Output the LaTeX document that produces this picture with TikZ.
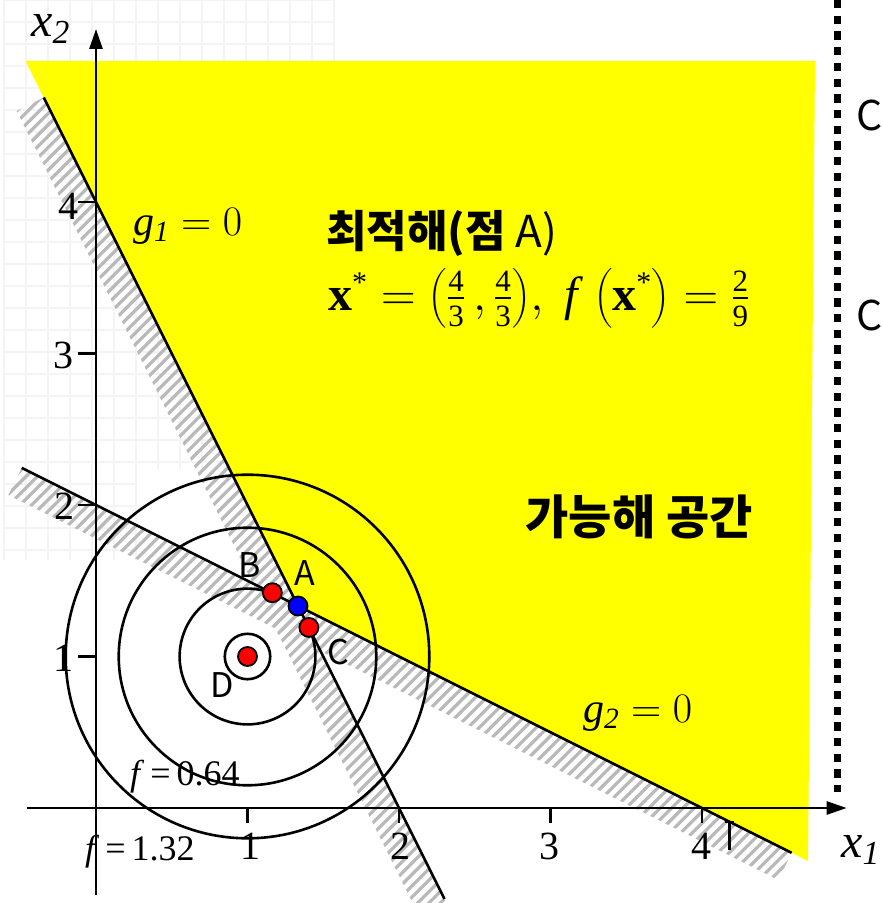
\RequirePackage{fix-cm}
\documentclass[tikz,border=0pt]{standalone}
\usepackage{amsmath}
\usepackage{fontspec}
\setmainfont{Liberation Serif}
\newfontfamily\krfont{Noto Sans CJK KR}
\usetikzlibrary{arrows.meta,calc}
\definecolor{feasyellow}{RGB}{255,255,0}
\definecolor{hatchgray}{RGB}{185,185,185}
\definecolor{gridgray}{RGB}{244,244,244}
\newcommand\fsz[1]{\fontsize{#1}{#1}\selectfont}
\newcommand\tfr[2]{\genfrac{}{}{1.3pt}{}{\mbox{\fsz{31}#1}}{\mbox{\fsz{31}#2}}}
\newcommand\bx{\mbox{\bfseries x}^{\mbox{\fsz{30}*}}}
\tikzset{
 axisline/.style={line width=2.6pt,-{Triangle[length=20pt,width=13pt]}},
 gline/.style={line width=2.6pt},
 contour/.style={line width=2.6pt},
 stripe/.style={draw=hatchgray,line width=3.2pt},
 tickline/.style={line width=2.6pt},
 dotnode/.style={circle,draw=black,line width=1.8pt,minimum size=19pt,inner sep=0pt},
 ticklabel/.style={font=\fsz{40},inner sep=0pt},
 serlabel/.style={inner sep=0pt,anchor=base west},
 ptlabel/.style={font=\krfont\fsz{34},inner sep=0pt},
 gridline/.style={draw=gridgray,line width=1.2pt},
 dotted line/.style={line width=7.5pt,dash pattern=on 8.3pt off 7.4pt},
}
\begin{document}
\begin{tikzpicture}[x=1pt,y=-1pt]
\useasboundingbox (0,0) rectangle (883,903);
% faint background grid
\foreach \i in {0,...,15} \draw[gridline] ({4+22*\i},0) -- ({4+22*\i},470);
\foreach \j in {0,...,21} \draw[gridline] (4,{22*\j}) -- (334,{22*\j});
\foreach \i in {0,...,6} \draw[gridline] ({4+22*\i},470) -- ({4+22*\i},560);
\foreach \j in {22,...,25} \draw[gridline] (4,{22*\j}) -- (136,{22*\j});

\begin{scope}[shift={(96,808)},x=151.5pt,y=151.5pt]
 \coordinate (O) at (0,0);
 \coordinate (Apt) at ({4/3},{4/3});
 \coordinate (Dc) at (1,1);
 \coordinate (G1s) at (-0.345,4.69);
 \coordinate (G1e) at (2.3,-0.6);
 \coordinate (G1f) at (2.33,-0.66);
 \coordinate (G2s) at (-0.49,2.245);
 \coordinate (G2e) at (4.592,-0.296);
 \coordinate (Y1) at (-0.4655,4.931);
 \coordinate (Y2) at (4.746,4.931);
 \coordinate (Y3) at (4.70,-0.35);
 \coordinate (XL) at (-0.455,0);
 \coordinate (XR) at (4.955,0);
 \coordinate (YB) at (0,-0.574);
 \coordinate (YT) at (0,5.142);
 % feasible region
 \fill[feasyellow] (Y1) -- (Y2) -- (Y3) -- (Apt) -- cycle;
 % hatched band along g1
 \begin{scope}
  \clip (G1s) -- (G1f) -- ($(G1f)+(-0.179,-0.089)$) -- ($(G1s)+(-0.179,-0.089)$) -- cycle;
  \foreach \k in {0,...,180} {
   \pgfmathsetmacro\c{-7+0.075*\k}
   \draw[stripe] ({\c-0.8},-0.8) -- ({\c+5.3},5.3);
  }
 \end{scope}
 % hatched band along g2
 \begin{scope}
  \clip (G2s) -- (G2e) -- ($(G2e)+(-0.089,-0.179)$) -- ($(G2s)+(-0.089,-0.179)$) -- cycle;
  \foreach \k in {0,...,180} {
   \pgfmathsetmacro\c{-7+0.075*\k}
   \draw[stripe] ({\c-0.8},-0.8) -- ({\c+5.3},5.3);
  }
 \end{scope}
 % constraint lines
 \draw[gline] (G1s) -- (G1e);
 \draw[gline] (G2s) -- (G2e);
 % axes
 \draw[axisline] (XL) -- (XR);
 \draw[axisline] (YB) -- (YT);
 \foreach \k in {1,2,3,4} {
  \draw[tickline] (\k,0) -- (\k,-0.099);
  \draw[tickline] (0,\k) -- (-0.119,\k);
 }
 % contours
 \draw[contour] (Dc) circle[radius=1.2];
 \draw[contour] (Dc) circle[radius=0.85];
 \draw[contour] (Dc) circle[radius=0.15];
 \draw[contour] ($(Dc)+(25.4:0.448)$) arc[start angle=25.4,end angle=-291.3,radius=0.448];
 % points
 \node[dotnode,fill=red] (B) at (1.164,1.421) {};
 \node[dotnode,fill=red] (C) at (1.405,1.192) {};
 \node[dotnode,fill=red] (D) at (1,1) {};
 \node[dotnode,fill=blue] (A) at ({4/3},{4/3}) {};
\end{scope}

% dotted line at right
\coordinate (dtop) at (837.7,0);
\coordinate (dbot) at (837.7,792);
\draw[dotted line] (dtop) -- (dbot);
\node[font=\krfont\fsz{41},anchor=base west,inner sep=0pt] (c1) at (856,130) {C};
\node[font=\krfont\fsz{41},anchor=base west,inner sep=0pt] (c2) at (856,330) {C};

% cursor mark
\coordinate (cur1) at (729,821);
\coordinate (cur2) at (729,850);
\coordinate (cur3) at (724.5,822);
\coordinate (cur4) at (733.5,822);
\draw[line width=3pt] (cur1) -- (cur2);
\draw[line width=2pt] (cur3) -- (cur4);

% tick labels
\node[ticklabel] (tx1) at (250,846) {1};
\node[ticklabel] (tx2) at (400,846) {2};
\node[ticklabel] (tx3) at (549,846) {3};
\node[ticklabel] (tx4) at (701,846) {4};
\node[ticklabel] (ty1) at (63,658) {1};
\node[ticklabel] (ty2) at (64,506) {2};
\node[ticklabel] (ty3) at (63,355) {3};
\node[ticklabel] (ty4) at (68,206) {4};

% axis labels
\node[serlabel,font=\fsz{48}] (lx2) at (31,36) {$\mathit{x}_{\mathit{2}}$};
\node[serlabel,font=\fsz{48}] (lx1) at (841,857) {$\mathit{x}_{\mathit{1}}$};

% constraint labels
\node[serlabel,font=\fsz{42}] (lg1) at (133,235) {$\mathit{g}_{\mathit{1}} = 0$};
\node[serlabel,font=\fsz{42}] (lg2) at (583,722) {$\mathit{g}_{\mathit{2}} = 0$};

% contour labels
\node[serlabel,font=\fsz{36}] (lf1) at (130,785) {\textit{f}\,=\,0.64};
\node[serlabel,font=\fsz{36}] (lf2) at (85,860) {\textit{f}\,=\,1.32};

% point labels
\node[ptlabel] (lA) at (305,573) {A};
\node[ptlabel] (lB) at (250,565) {B};
\node[ptlabel] (lC) at (338,652) {C};
\node[ptlabel] (lD) at (222,685) {D};

% titles
\node[font=\krfont\fsz{44},anchor=base west,inner sep=0pt,text height=34pt,text depth=5pt] (title) at (326,247) {{\bfseries 최적해(점}\ A)};
\node[font=\fsz{48},anchor=base west,inner sep=0pt] (xstar) at (328,310)
 {$\bx = \left(\tfr{4}{3}\,,\tfr{4}{3}\right)\!,\;\mbox{\itshape f}\,\left(\bx\vphantom{\tfr{4}{3}}\right) = \tfr{2}{9}$};
\node[font=\krfont\bfseries\fsz{47},inner sep=0pt] (feas) at (639,517) {가능해 공간};
\end{tikzpicture}
\end{document}
